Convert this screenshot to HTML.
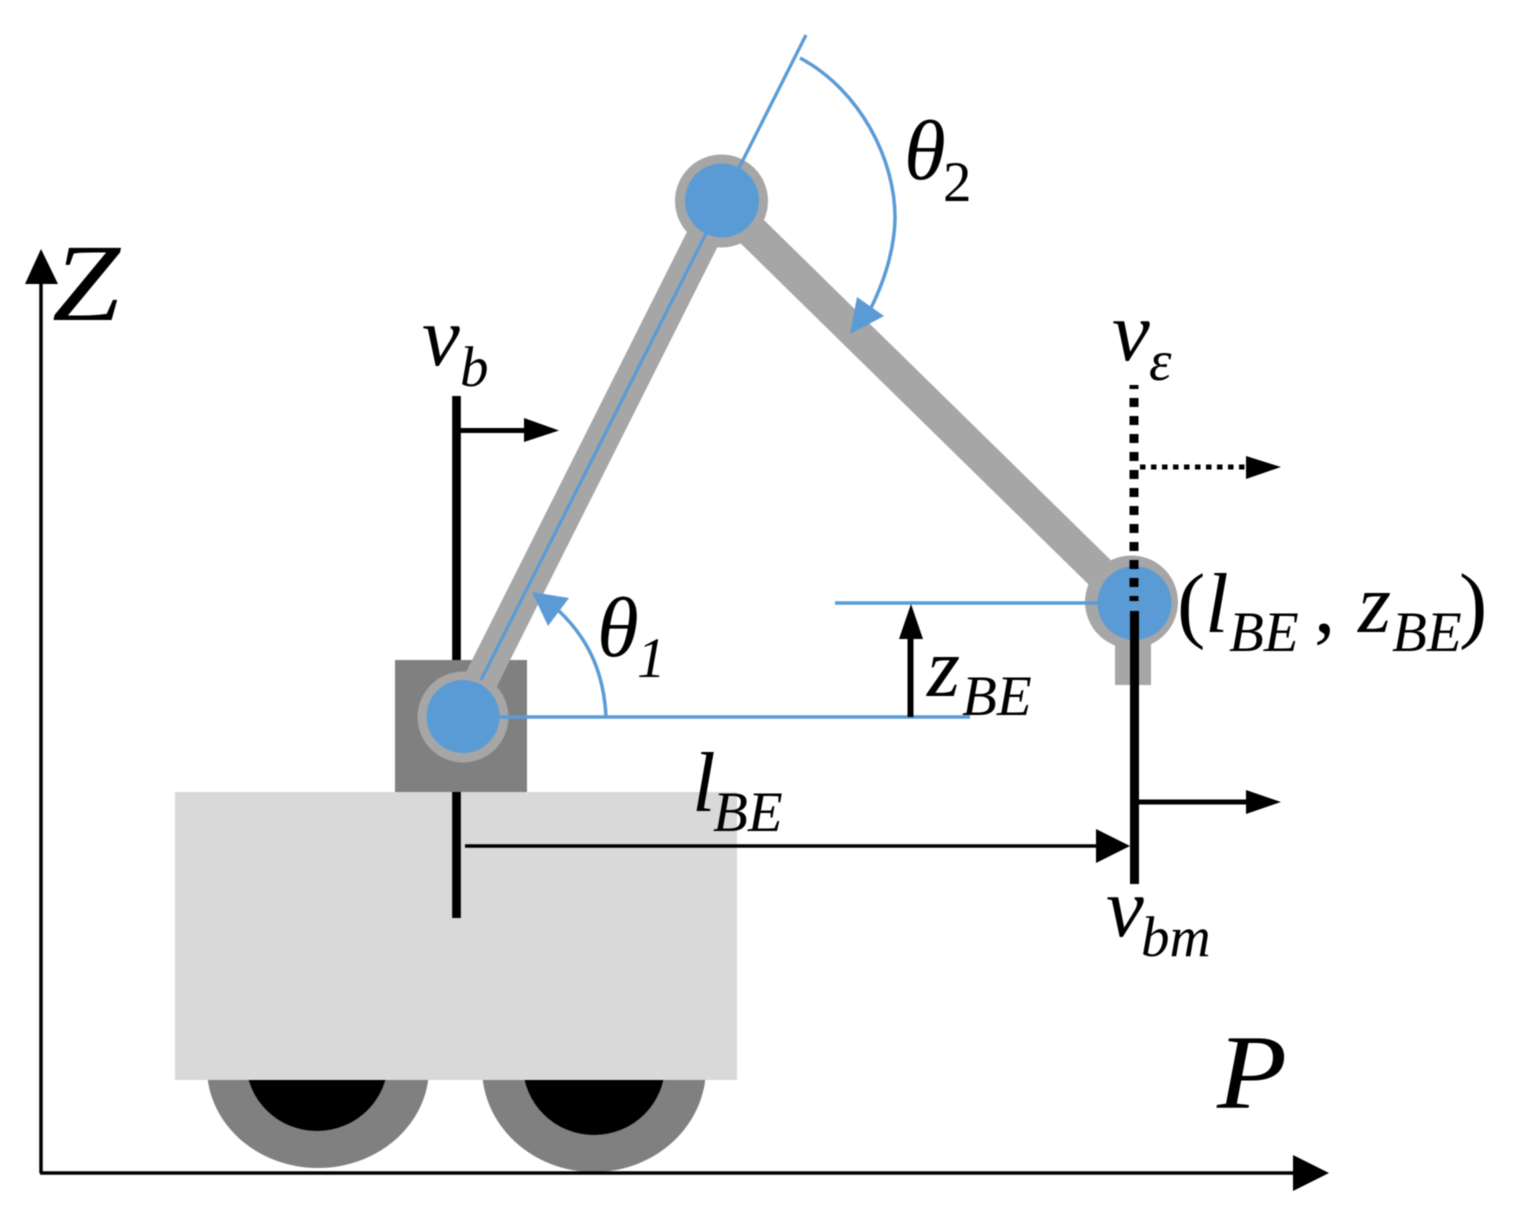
<!DOCTYPE html>
<html>
<head>
<meta charset="utf-8">
<style>
html,body{margin:0;padding:0;background:#fff;width:1513px;height:1216px;overflow:hidden}
svg{display:block;filter:blur(0.5px)}
text{font-family:"Liberation Serif",serif;font-style:italic;fill:#000}
.m{font-size:85px}
.s{font-size:57px}
.n{font-style:normal}
</style>
</head>
<body>
<svg width="1513" height="1216" viewBox="0 0 1513 1216" xmlns="http://www.w3.org/2000/svg">
<!-- wheels -->
<ellipse cx="318" cy="1068" rx="111" ry="100" fill="#808080"/>
<ellipse cx="317" cy="1061" rx="71" ry="70" fill="#000"/>
<ellipse cx="594" cy="1068" rx="112" ry="104" fill="#808080"/>
<ellipse cx="594" cy="1065" rx="71" ry="70" fill="#000"/>
<!-- body -->
<rect x="175" y="792" width="562" height="288" fill="#d9d9d9"/>
<!-- axes -->
<line x1="41" y1="1173" x2="41" y2="280" stroke="#000" stroke-width="3.5"/>
<polygon points="41,249 25,284 58,284" fill="#000"/>
<line x1="40" y1="1173" x2="1300" y2="1173" stroke="#000" stroke-width="3.5"/>
<polygon points="1329,1173 1293,1155 1293,1191" fill="#000"/>
<!-- black v_b line -->
<line x1="456.5" y1="396" x2="456.5" y2="918" stroke="#000" stroke-width="8.7"/>
<line x1="456" y1="430.5" x2="530" y2="430.5" stroke="#000" stroke-width="5"/>
<polygon points="559,430.5 524,418 524,442" fill="#000"/>
<!-- base covers the line -->
<rect x="395" y="660" width="132" height="132" fill="#808080"/>
<!-- arm links -->
<line x1="463" y1="716" x2="722" y2="200" stroke="#a6a6a6" stroke-width="34"/>
<line x1="722" y1="202" x2="1133" y2="605" stroke="#a6a6a6" stroke-width="33"/>
<rect x="1115" y="630" width="36" height="55" fill="#a6a6a6"/>
<!-- grey joints -->
<circle cx="463" cy="717" r="45.5" fill="#a6a6a6"/>
<circle cx="721.5" cy="201" r="46.5" fill="#a6a6a6"/>
<circle cx="1131.5" cy="602" r="46.5" fill="#a6a6a6"/>
<!-- blue lines -->
<line x1="481" y1="680" x2="806" y2="35" stroke="#5b9bd5" stroke-width="3.3"/>
<line x1="463" y1="717" x2="970" y2="717" stroke="#5b9bd5" stroke-width="3.5"/>
<line x1="835" y1="603" x2="1133" y2="603" stroke="#5b9bd5" stroke-width="3.5"/>
<!-- blue joints -->
<circle cx="463" cy="716.5" r="36.5" fill="#5b9bd5"/>
<circle cx="722" cy="200.5" r="37" fill="#5b9bd5"/>
<circle cx="1134.5" cy="603" r="37" fill="#5b9bd5"/>
<!-- angle arcs -->
<path d="M606 717 C604 675 590 640 558 610" fill="none" stroke="#5b9bd5" stroke-width="3.5"/>
<polygon points="532,592 569,598 548,626" fill="#5b9bd5"/>
<path d="M800 58 C860 90 896 160 895 220 C894 250 885 280 870 310" fill="none" stroke="#5b9bd5" stroke-width="3.5"/>
<polygon points="850,334 857,297 884,316" fill="#5b9bd5"/>
<!-- z_BE arrow -->
<line x1="910.5" y1="717" x2="910.5" y2="630" stroke="#000" stroke-width="6"/>
<polygon points="911,604 899,639 923,639" fill="#000"/>
<!-- v_e dotted -->
<line x1="1134" y1="385" x2="1134" y2="601" stroke="#000" stroke-width="9" stroke-dasharray="9 9" stroke-dashoffset="5"/>
<line x1="1140" y1="467" x2="1250" y2="467" stroke="#000" stroke-width="5" stroke-dasharray="5.5 5.5"/>
<polygon points="1281,467 1246,456 1246,479" fill="#000"/>
<!-- v_bm -->
<line x1="1134.5" y1="611" x2="1134.5" y2="884" stroke="#000" stroke-width="9"/>
<line x1="1134" y1="802" x2="1250" y2="802" stroke="#000" stroke-width="5"/>
<polygon points="1281,802 1246,790 1246,814" fill="#000"/>
<!-- l_BE arrow -->
<line x1="465" y1="846" x2="1100" y2="846" stroke="#000" stroke-width="3.5"/>
<polygon points="1130,846 1096,829 1096,863" fill="#000"/>
<!-- labels -->
<text x="52" y="320" font-size="110" textLength="68" lengthAdjust="spacingAndGlyphs">Z</text>
<text x="1217" y="1108" font-size="106" textLength="70" lengthAdjust="spacingAndGlyphs">P</text>
<text class="m" x="422" y="365">v</text><text class="s" x="460" y="386">b</text>
<text class="m" x="1112" y="360">v</text><text class="s" x="1149" y="380">ε</text>
<text class="m" x="1106" y="936">v</text><text class="s" x="1141" y="956">bm</text>
<text class="m" x="904" y="179">θ</text><text class="s n" x="943" y="201">2</text>
<text class="m" x="597" y="656">θ</text><text class="s" x="637" y="677">1</text>
<text class="m" x="927" y="696">z</text><text class="s" x="962" y="715">BE</text>
<text class="m" x="692" y="811">l</text><text class="s" x="713" y="831">BE</text>
<text class="m n" x="1177" y="632">(</text>
<text class="m" x="1205" y="632">l</text>
<text class="s" x="1229" y="651">BE</text>
<text class="m n" x="1314" y="632">,</text>
<text class="m" x="1358" y="632">z</text>
<text class="s" x="1392" y="651">BE</text>
<text class="m n" x="1459" y="632">)</text>
</svg>
</body>
</html>
